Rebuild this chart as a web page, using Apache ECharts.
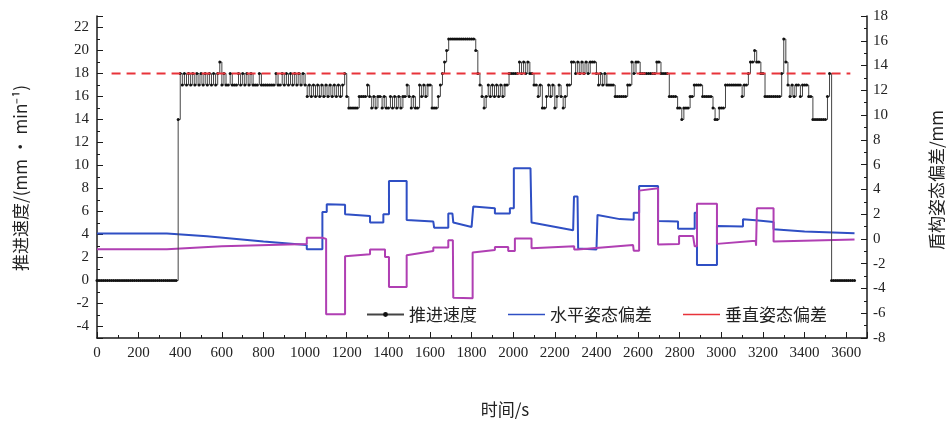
<!DOCTYPE html>
<html><head><meta charset="utf-8">
<script src="https://cdn.jsdelivr.net/npm/echarts@6/dist/echarts.min.js"></script>
<style>html,body{margin:0;padding:0;background:#fff}#c{width:948px;height:421px}</style>
</head><body><div id="c"></div>
<script>
// ---- data ----
const speedStart = 0;      // s
const speedStep = 10;      // s, sampling step of the thrust speed record
const speedValues = [
  0,0,0,0,0,0,0,0,0,0,
  0,0,0,0,0,0,0,0,0,0,
  0,0,0,0,0,0,0,0,0,0,
  0,0,0,0,0,0,0,0,0,14,
  18,17,18,17,18,17,18,17,18,17,
  18,17,18,17,18,17,18,17,18,19,
  17,18,17,17,18,17,17,17,18,17,
  18,17,18,17,18,17,17,17,18,17,
  17,17,17,17,17,17,18,17,17,18,
  17,18,17,18,17,18,17,18,17,18,
  17,16,17,16,17,16,17,16,17,16,
  17,16,17,16,17,16,17,16,17,18,
  16,15,15,15,15,15,16,16,16,16,
  17,16,15,16,15,16,16,15,16,15,
  15,16,15,16,15,16,15,16,16,17,
  16,15,16,15,15,17,16,17,16,17,
  17,15,15,15,16,17,18,19,20,21,
  21,21,21,21,21,21,21,21,21,21,
  21,21,20,18,17,16,15,16,17,16,
  17,16,17,16,17,16,17,17,18,18,
  18,18,18,19,18,19,18,19,18,18,
  17,17,16,17,15,15,16,17,16,17,
  15,16,17,16,15,16,17,17,19,19,
  18,19,18,19,18,19,18,19,19,19,
  18,17,18,17,18,17,17,17,17,16,
  16,16,16,16,16,17,17,19,18,19,
  19,18,18,18,18,18,18,18,18,19,
  19,18,18,18,18,16,16,16,16,15,
  15,14,15,15,15,16,16,17,17,17,
  17,16,16,16,16,16,15,14,14,15,
  15,15,17,17,17,17,17,17,17,17,
  16,17,17,18,19,19,20,19,19,18,
  18,16,16,16,16,16,16,16,16,18,
  21,19,17,16,17,16,17,17,16,17,
  17,17,16,16,14,14,14,14,14,14,
  14,16,18,0,0,0,0,0,0,0,
  0,0,0,0,0
];
const blueTimes = [0,336,528,800,1008,1008,1083,1083,1104,1104,1192,1192,1312,1312,1376,1376,1403,1403,1488,1488,1616,1620,1688,1688,1708,1712,1800,1808,1912,1912,1984,1984,2003,2003,2083,2088,2288,2292,2309,2312,2400,2405,2512,2512,2579,2579,2605,2605,2696,2696,2792,2792,2872,2872,2883,2883,2979,2979,3104,3104,3165,3171,3251,3251,3400,3640];
const blueValues = [0.43,0.43,0.22,-0.2,-0.5,-0.83,-0.83,2.18,2.18,2.8,2.75,2.0,1.86,1.32,1.32,2.0,2.0,4.68,4.68,1.53,1.4,0.91,0.91,2.05,2.05,1.32,0.97,2.61,2.48,2.05,2.05,2.48,2.48,5.71,5.71,1.32,0.7,3.42,3.42,-0.78,-0.85,1.94,1.6,1.55,1.55,2.12,2.12,4.28,4.28,1.45,1.4,0.83,0.83,2.12,2.12,-2.1,-2.1,1.05,1.0,1.59,1.5,1.36,1.36,0.78,0.6,0.45];
const magTimes = [0,336,345,600,1008,1008,1083,1101,1101,1192,1192,1312,1312,1384,1384,1403,1403,1488,1488,1616,1616,1688,1688,1710,1712,1805,1805,1912,1912,1976,1976,2008,2008,2088,2088,2293,2293,2309,2309,2576,2579,2605,2605,2696,2696,2797,2797,2864,2872,2883,2883,2979,2979,3165,3167,3171,3171,3251,3251,3640];
const magValues = [-0.83,-0.83,-0.7,-0.6,-0.4,0.1,0.1,0.0,-6.08,-6.08,-1.4,-1.24,-0.86,-0.86,-1.45,-1.45,-3.88,-3.88,-1.32,-0.97,-0.7,-0.7,-0.1,-0.1,-4.74,-4.8,-1.1,-0.9,-0.65,-0.65,-0.97,-0.97,0.03,0.03,-0.75,-0.6,-0.85,-0.85,-0.75,-0.5,-0.95,-0.95,3.9,4.1,-0.45,-0.4,0.24,0.24,-0.6,-0.6,2.85,2.85,-0.4,-0.15,-0.55,-0.5,2.48,2.48,-0.21,-0.05];
const refTimes = [70,3620];
const refValues = [18,18];
const seriesNames = ['推进速度','水平姿态偏差','垂直姿态偏差'];
const leftName = '推进速度/(mm · min⁻¹)';
const rightName = '盾构姿态偏差/mm';
const xName = '时间/s';

// ---- build ----
const zip = (t, v) => t.map((x, i) => [x, v[i]]);
const speedData = speedValues.map((v, i) => [speedStart + i * speedStep, v]);
const serif = '"Liberation Serif","Noto Sans CJK SC",serif';
const cjk = '"Noto Sans CJK SC","Liberation Serif",sans-serif';
const axisColor = '#1a1a1a';
const lineIcon = 'path://M0,0L74,0L74,3L0,3Z';

const chart = echarts.init(document.getElementById('c'), null, {renderer: 'canvas'});
chart.setOption({
  animation: false,
  backgroundColor: '#fff',
  grid: {left: 97, right: 81, top: 16, bottom: 83, containLabel: false},
  legend: {
    left: 366, top: 306, padding: 0, itemWidth: 37, itemHeight: 6, itemGap: 31,
    textStyle: {fontFamily: cjk, fontSize: 17, color: '#222'},
    data: [
      {name: seriesNames[0]},
      {name: seriesNames[1], icon: lineIcon},
      {name: seriesNames[2], icon: lineIcon, itemStyle: {color: '#e8333a'}, lineStyle: {color: '#e8333a'}}
    ]
  },
  xAxis: [
    {type: 'value', min: 0, max: 3700, interval: 100, position: 'bottom',
     axisLine: {onZero: false, lineStyle: {color: axisColor, width: 1.5}},
     axisTick: {inside: true, length: 3, lineStyle: {color: axisColor}},
     axisLabel: {fontFamily: serif, fontSize: 15, color: '#222', margin: 8,
       formatter: v => (v % 200 === 0 && v <= 3600) ? String(v) : ''},
     splitLine: {show: false}},
    {type: 'value', min: 0, max: 3700, interval: 200, position: 'bottom',
     axisLine: {show: false, onZero: false},
     axisTick: {inside: true, length: 6, lineStyle: {color: axisColor}},
     axisLabel: {show: false}, splitLine: {show: false}}
  ],
  yAxis: [
    {type: 'value', min: -5, max: 23, interval: 1, position: 'left',
     axisLine: {show: true, onZero: false, lineStyle: {color: axisColor, width: 1.5}},
     axisTick: {show: true, inside: true, length: 3, lineStyle: {color: axisColor}},
     axisLabel: {fontFamily: serif, fontSize: 15, color: '#222', margin: 8,
       formatter: v => (v % 2 === 0) ? String(v) : ''},
     splitLine: {show: false}},
    {type: 'value', min: -8, max: 18, interval: 2, position: 'right',
     axisLine: {show: true, onZero: false, lineStyle: {color: axisColor, width: 1.5}},
     axisTick: {show: true, inside: true, length: 6, lineStyle: {color: axisColor}},
     minorTick: {show: true, splitNumber: 2, length: 3, lineStyle: {color: axisColor}},
     axisLabel: {fontFamily: serif, fontSize: 15, color: '#222', margin: 6},
     splitLine: {show: false}},
    {type: 'value', min: -5, max: 23, splitNumber: 14, position: 'left',
     axisLine: {show: false, onZero: false},
     axisTick: {show: true, inside: true, length: 6, lineStyle: {color: axisColor}},
     axisLabel: {show: false}, splitLine: {show: false}}
  ],
  graphic: [
    {type: 'text', x: 21, y: 178, rotation: Math.PI / 2,
     style: {text: leftName, fontFamily: cjk, fontSize: 17, fill: '#222', align: 'center', verticalAlign: 'middle'}},
    {type: 'text', x: 937, y: 180, rotation: Math.PI / 2,
     style: {text: rightName, fontFamily: cjk, fontSize: 17, fill: '#222', align: 'center', verticalAlign: 'middle'}},
    {type: 'text', x: 505, y: 410,
     style: {text: xName, fontFamily: cjk, fontSize: 17, fill: '#222', align: 'center', verticalAlign: 'middle'}}
  ],
  series: [
    {name: seriesNames[1], type: 'line', xAxisIndex: 0, yAxisIndex: 1, data: zip(blueTimes, blueValues),
     symbol: 'none', lineStyle: {color: '#2f4fc4', width: 2}, itemStyle: {color: '#2f4fc4'}, z: 2},
    {name: seriesNames[2], type: 'line', xAxisIndex: 0, yAxisIndex: 1, data: zip(magTimes, magValues),
     symbol: 'none', lineStyle: {color: '#b03fb3', width: 2}, itemStyle: {color: '#b03fb3'}, z: 2},
    {name: seriesNames[0], type: 'line', xAxisIndex: 0, yAxisIndex: 0, data: speedData, step: 'end',
     symbol: 'circle', symbolSize: 3, lineStyle: {color: '#444', width: 1}, itemStyle: {color: '#111'}, z: 3},
    {name: 'ref', type: 'line', xAxisIndex: 0, yAxisIndex: 0, data: zip(refTimes, refValues),
     symbol: 'none', lineStyle: {color: '#e8333a', width: 2, type: [9, 6]}, z: 4}
  ]
});
</script>
</body></html>
